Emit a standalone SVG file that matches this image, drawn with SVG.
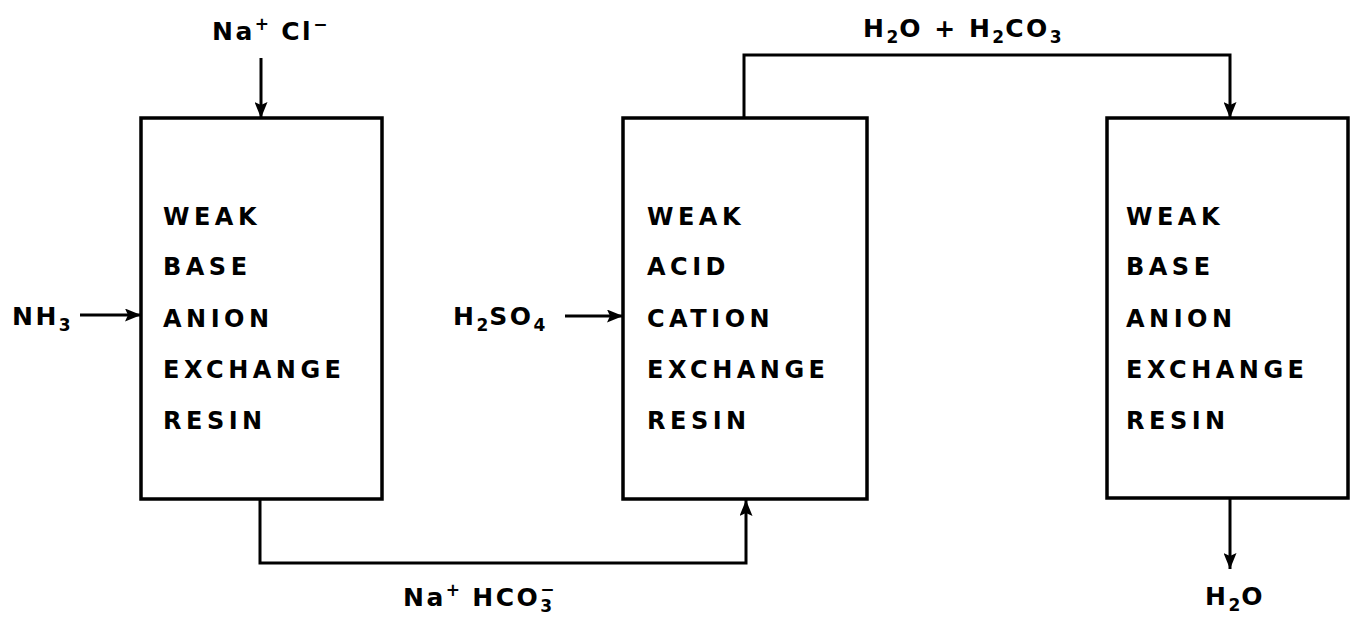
<svg xmlns="http://www.w3.org/2000/svg" width="1355" height="621" viewBox="0 0 1355 621">
<style>
.box{fill:#fff;stroke:#000;stroke-width:3.5}
.ln{fill:none;stroke:#000;stroke-width:3;stroke-linejoin:miter}
.t{font-family:"DejaVu Sans","Liberation Sans",sans-serif;font-weight:bold;font-size:24px;letter-spacing:4.5px;fill:#000}
.lb{font-family:"DejaVu Sans","Liberation Sans",sans-serif;font-weight:bold;font-size:25px;letter-spacing:2.5px;fill:#000}
.s{font-size:17px;letter-spacing:1px}
</style>
<defs>
<marker id="ah" viewBox="0 0 16 13" refX="16" refY="6.5" markerWidth="16" markerHeight="13" markerUnits="userSpaceOnUse" orient="auto">
<path d="M0,0 L16,6.5 L0,13 L3,6.5 z" fill="#000"/>
</marker>
</defs>
<rect width="1355" height="621" fill="#fff"/>
<g id="connectors">
<path class="ln" d="M261,58 V118" marker-end="url(#ah)"/>
<path class="ln" d="M80,315 H141" marker-end="url(#ah)"/>
<path class="ln" d="M565,316 H623" marker-end="url(#ah)"/>
<path class="ln" d="M260,499 V563 H746 V500" marker-end="url(#ah)"/>
<path class="ln" d="M744,118 V55 H1230 V118" marker-end="url(#ah)"/>
<path class="ln" d="M1230,498 V569" marker-end="url(#ah)"/>
</g>
<g id="box1">
<rect class="box" x="141" y="118" width="241" height="381"/>
<text class="t" x="163" y="225">WEAK</text>
<text class="t" x="163" y="275">BASE</text>
<text class="t" x="163" y="327">ANION</text>
<text class="t" x="163" y="378">EXCHANGE</text>
<text class="t" x="163" y="429">RESIN</text>
</g>
<g id="box2">
<rect class="box" x="623" y="118" width="244" height="381"/>
<text class="t" x="647" y="225">WEAK</text>
<text class="t" x="647" y="275">ACID</text>
<text class="t" x="647" y="327">CATION</text>
<text class="t" x="647" y="378">EXCHANGE</text>
<text class="t" x="647" y="429">RESIN</text>
</g>
<g id="box3">
<rect class="box" x="1107" y="118" width="241" height="380"/>
<text class="t" x="1126" y="225">WEAK</text>
<text class="t" x="1126" y="275">BASE</text>
<text class="t" x="1126" y="327">ANION</text>
<text class="t" x="1126" y="378">EXCHANGE</text>
<text class="t" x="1126" y="429">RESIN</text>
</g>
<g id="labels">
<text class="lb" x="212" y="40">Na<tspan class="s" dy="-10">+</tspan><tspan dy="10"> Cl</tspan><tspan class="s" dy="-10">−</tspan></text>
<text class="lb" x="12" y="325">NH<tspan class="s" dy="6">3</tspan></text>
<text class="lb" x="453" y="325">H<tspan class="s" dy="6">2</tspan><tspan dy="-6">SO</tspan><tspan class="s" dy="6">4</tspan></text>
<text class="lb" x="863" y="37">H<tspan class="s" dy="6">2</tspan><tspan dy="-6">O + H</tspan><tspan class="s" dy="6">2</tspan><tspan dy="-6">CO</tspan><tspan class="s" dy="6">3</tspan></text>
<text class="lb" x="403" y="606">Na<tspan class="s" dy="-10">+</tspan><tspan dy="10"> HCO</tspan><tspan class="s" dy="6">3</tspan><tspan class="s" dx="-13" dy="-17">−</tspan></text>
<text class="lb" x="1205" y="605">H<tspan class="s" dy="6">2</tspan><tspan dy="-6">O</tspan></text>
</g>
</svg>
